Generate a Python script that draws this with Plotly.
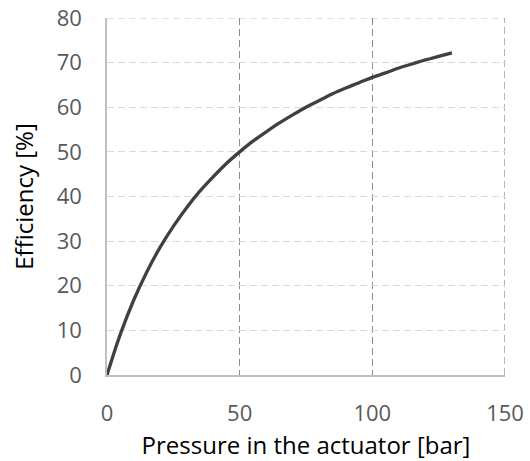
import plotly.graph_objects as go

pressure = [0, 5, 10, 15, 20, 25, 30, 35, 40, 45, 50, 55, 60, 65, 70, 75, 80,
            85, 90, 95, 100, 105, 110, 115, 120, 125, 130]
efficiency = [0.0, 9.1, 16.7, 23.1, 28.6, 33.3, 37.5, 41.2, 44.4, 47.4, 50.0,
              52.4, 54.5, 56.5, 58.3, 60.0, 61.5, 63.0, 64.3, 65.5, 66.7, 67.7,
              68.8, 69.7, 70.6, 71.4, 72.2]
x_ticks = [0, 50, 100, 150]
y_ticks = [0, 10, 20, 30, 40, 50, 60, 70, 80]

fig = go.Figure()
fig.add_trace(go.Scatter(x=pressure, y=efficiency, mode="lines",
                         line=dict(color="#404040", width=3.3, shape="spline"),
                         showlegend=False, cliponaxis=False))

# edge gridlines (top and right), drawn below the data like the regular grid
fig.add_shape(type="line", xref="paper", x0=0, x1=1, yref="y",
              y0=y_ticks[-1], y1=y_ticks[-1], layer="below",
              line=dict(color="#d9d9d9", width=1.3, dash="7px,4px"))
fig.add_shape(type="line", yref="paper", y0=0, y1=1, xref="x",
              x0=x_ticks[-1], x1=x_ticks[-1], layer="below",
              line=dict(color="#8c8c8c", width=1.3, dash="7px,4px"))

font_family = "Open Sans, Noto Sans, sans-serif"
fig.update_layout(
    width=530, height=461,
    margin=dict(l=107, r=25, t=18, b=86, autoexpand=False),
    paper_bgcolor="white", plot_bgcolor="white",
    font=dict(family=font_family),
    xaxis=dict(range=[0, 150], tickvals=x_ticks, showgrid=True,
               gridcolor="#8c8c8c", griddash="7px,4px", gridwidth=1.3,
               showline=True, linecolor="#bfbfbf", linewidth=1.5,
               zeroline=False, ticks="outside", ticklen=18, tickcolor="rgba(0,0,0,0)",
               tickfont=dict(size=22, color="#595959"),
               ticklabeloverflow="allow",
               automargin=False,
               title=dict(text="Pressure in the actuator [bar]",
                          font=dict(size=24, color="#000000"), standoff=15)),
    yaxis=dict(range=[0, 80], tickvals=y_ticks, showgrid=True,
               gridcolor="#d9d9d9", griddash="7px,4px", gridwidth=1.3,
               showline=True, linecolor="#bfbfbf", linewidth=1.5,
               zeroline=False, ticks="outside", ticklen=19, tickcolor="rgba(0,0,0,0)",
               tickfont=dict(size=22, color="#595959"),
               ticklabeloverflow="allow",
               automargin=False,
               title=dict(text="Efficiency [%]",
                          font=dict(size=24, color="#000000"), standoff=16)),
)

fig.write_html("out.html", config={"displayModeBar": False},
               post_script="document.body.style.margin='0px';")
